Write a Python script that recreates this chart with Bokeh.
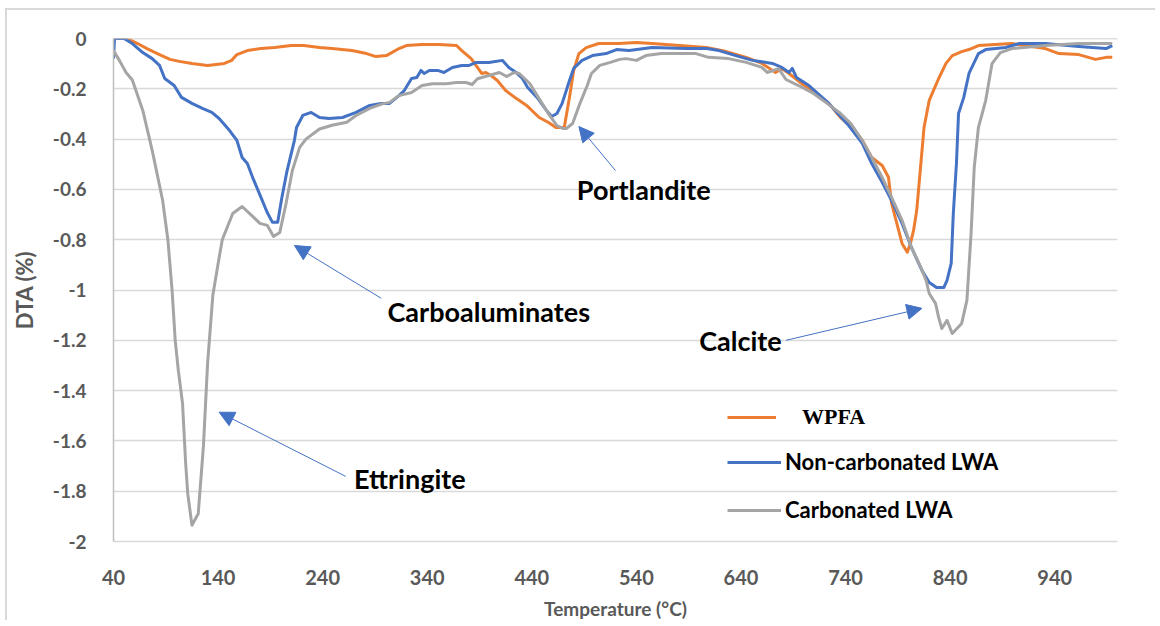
from bokeh.plotting import figure
from bokeh.models import (ColumnDataSource, FixedTicker, Legend, LegendItem, Label,
                          Arrow, NormalHead, Span)
from bokeh.embed import file_html
from bokeh.resources import INLINE

# ---------------- data ----------------
wpfa_T = [40, 53, 63, 72, 84, 94, 103, 115, 130, 146, 153, 158, 168, 181, 194, 210, 222, 237, 249, 268,
          282, 291, 301, 313, 320, 335, 351, 368, 373, 382, 388, 392, 396, 401, 407, 415, 425, 435, 447, 456,
          463, 471, 476, 480, 485, 492, 504, 523, 540, 555, 581, 607, 626, 645, 660, 673, 679, 686, 698, 712,
          724, 736, 746, 756, 765, 775, 781, 784, 789, 794, 799, 802, 805, 808, 812, 815, 820, 824, 829, 836,
          842, 851, 858, 867, 899, 931, 944, 963, 979, 989, 995]
wpfa_v = [0, 0, -0.02, -0.04, -0.064, -0.083, -0.091, -0.099, -0.107, -0.099, -0.087, -0.064, -0.048, -0.04,
          -0.036, -0.028, -0.028, -0.036, -0.04, -0.048, -0.06, -0.072, -0.068, -0.04, -0.028, -0.024, -0.024,
          -0.028, -0.048, -0.08, -0.115, -0.139, -0.135, -0.147, -0.167, -0.207, -0.238, -0.266, -0.314, -0.334,
          -0.354, -0.354, -0.234, -0.127, -0.06, -0.036, -0.02, -0.02, -0.016, -0.02, -0.028, -0.036, -0.052,
          -0.075, -0.099, -0.135, -0.119, -0.139, -0.179, -0.219, -0.258, -0.318, -0.354, -0.405, -0.473,
          -0.505, -0.552, -0.656, -0.735, -0.815, -0.85, -0.815, -0.763, -0.684, -0.497, -0.354, -0.246,
          -0.207, -0.159, -0.099, -0.068, -0.052, -0.044, -0.028, -0.02, -0.04, -0.06, -0.064, -0.083, -0.075,
          -0.075]

noncarb_T = [40, 41, 50, 58, 68, 77, 84, 89, 98, 105, 115, 125, 134, 141, 151, 158, 163, 168, 173, 181,
             187, 192, 197, 201, 206, 213, 215, 221, 229, 237, 246, 259, 272, 285, 296, 304, 313, 318, 325, 330,
             334, 337, 342, 350, 356, 364, 373, 380, 387, 399, 412, 418, 425, 431, 436, 445, 454, 459, 464, 469,
             476, 480, 488, 498, 511, 521, 533, 555, 588, 607, 619, 635, 651, 670, 679, 686, 689, 693, 705, 724,
             743, 756, 765, 775, 784, 794, 803, 813, 820, 827, 834, 837, 841, 843, 846, 848, 853, 858, 867, 874,
             893, 906, 931, 963, 989, 995]
noncarb_v = [-0.08, 0, 0, -0.02, -0.056, -0.08, -0.107, -0.159, -0.187, -0.234, -0.258, -0.278, -0.294,
             -0.318, -0.366, -0.405, -0.473, -0.497, -0.552, -0.632, -0.692, -0.731, -0.731, -0.632, -0.525,
             -0.405, -0.354, -0.306, -0.294, -0.314, -0.318, -0.314, -0.294, -0.266, -0.258, -0.258, -0.227,
             -0.207, -0.159, -0.155, -0.127, -0.139, -0.127, -0.127, -0.135, -0.115, -0.107, -0.107, -0.095,
             -0.095, -0.087, -0.115, -0.135, -0.159, -0.195, -0.234, -0.286, -0.31, -0.298, -0.258, -0.167,
             -0.119, -0.087, -0.068, -0.06, -0.044, -0.048, -0.036, -0.04, -0.04, -0.048, -0.068, -0.087,
             -0.099, -0.115, -0.135, -0.119, -0.155, -0.187, -0.258, -0.346, -0.417, -0.497, -0.572, -0.644,
             -0.735, -0.831, -0.922, -0.97, -0.99, -0.99, -0.962, -0.894, -0.696, -0.497, -0.298, -0.234,
             -0.139, -0.06, -0.044, -0.036, -0.02, -0.02, -0.032, -0.04, -0.028]

carb_T = [40, 46, 52, 58, 68, 77, 87, 92, 96, 99, 102, 106, 109, 111, 115, 121, 126, 130, 135, 139,
          144, 154, 163, 172, 180, 187, 193, 199, 205, 211, 218, 224, 237, 249, 263, 272, 285, 297, 304, 313,
          325, 335, 345, 358, 368, 377, 383, 388, 399, 409, 416, 423, 428, 438, 448, 457, 464, 470, 473, 479,
          486, 493, 497, 505, 515, 524, 530, 540, 549, 564, 597, 609, 628, 645, 660, 665, 676, 683, 695, 708,
          721, 734, 745, 756, 765, 775, 784, 794, 803, 812, 817, 820, 826, 829, 832, 837, 842, 851, 856, 860,
          863, 867, 874, 880, 888, 899, 931, 963, 995]
carb_v = [-0.048, -0.09, -0.135, -0.165, -0.286, -0.445, -0.644, -0.80, -1.0, -1.2, -1.32, -1.45, -1.69,
          -1.81, -1.935, -1.89, -1.62, -1.29, -1.02, -0.92, -0.80, -0.696, -0.668, -0.703, -0.735, -0.743,
          -0.787, -0.771, -0.656, -0.525, -0.433, -0.40, -0.36, -0.345, -0.333, -0.306, -0.278, -0.26, -0.254,
          -0.227, -0.215, -0.187, -0.18, -0.18, -0.175, -0.175, -0.183, -0.16, -0.147, -0.135, -0.151, -0.135,
          -0.139, -0.179, -0.246, -0.306, -0.346, -0.358, -0.358, -0.338, -0.258, -0.187, -0.139, -0.107,
          -0.095, -0.083, -0.08, -0.087, -0.068, -0.06, -0.06, -0.075, -0.08, -0.095, -0.115, -0.135, -0.12,
          -0.163, -0.187, -0.215, -0.254, -0.294, -0.338, -0.405, -0.473, -0.552, -0.632, -0.723, -0.831,
          -0.91, -0.962, -1.014, -1.053, -1.109, -1.153, -1.121, -1.173, -1.133, -1.041, -0.775, -0.513,
          -0.354, -0.246, -0.10, -0.056, -0.04, -0.028, -0.02, -0.02]

series_names = ["WPFA", "Non-carbonated LWA", "Carbonated LWA"]
series_colors = ["#ED7D31", "#4472C4", "#A5A5A5"]

x_ticks = [40, 140, 240, 340, 440, 540, 640, 740, 840, 940]
y_ticks = [0, -0.2, -0.4, -0.6, -0.8, -1, -1.2, -1.4, -1.6, -1.8, -2]
y_tick_labels = ["0", "-0.2", "-0.4", "-0.6", "-0.8", "-1", "-1.2", "-1.4", "-1.6", "-1.8", "-2"]

# annotations: (text, label x, label y, arrow start x, start y, arrow tip x, tip y)
annotations = [
    ("Carboaluminates", 302, -1.085, 296, -1.033, 213, -0.823),
    ("Ettringite", 270, -1.749, 262, -1.741, 141, -1.486),
    ("Portlandite", 483, -0.600, 520, -0.525, 485, -0.350),
    ("Calcite", 600, -1.200, 683, -1.200, 813, -1.073),
]

# ---------------- figure ----------------
FONT = "Lato"
GREY_TXT = "#595959"

p = figure(width=1150, height=612, x_range=(40, 1000), y_range=(-2, 0),
           output_backend="svg", toolbar_location=None,
           min_border_left=106, min_border_right=40, min_border_top=28, min_border_bottom=80)
p.styles = {"margin-left": "5px", "margin-top": "8px",
            "border-left": "2px solid #d9d9d9", "border-top": "2px solid #d9d9d9"}
p.outline_line_color = None
p.background_fill_color = "white"

p.xgrid.grid_line_color = None
p.ygrid.grid_line_color = "#d9d9d9"
p.ygrid.grid_line_width = 1.5
p.ygrid.ticker = FixedTicker(ticks=y_ticks)

p.xaxis.ticker = FixedTicker(ticks=x_ticks)
p.yaxis.ticker = FixedTicker(ticks=y_ticks)
p.yaxis.major_label_overrides = {t: s for t, s in zip(y_ticks, y_tick_labels)}

for ax in (p.xaxis[0], p.yaxis[0]):
    ax.major_tick_line_color = None
    ax.minor_tick_line_color = None
    ax.major_label_text_font = FONT
    ax.major_label_text_font_style = "bold"
    ax.major_label_text_color = GREY_TXT
    ax.axis_label_text_font = FONT
    ax.axis_label_text_font_style = "bold"
    ax.axis_label_text_color = GREY_TXT

p.xaxis.major_label_text_font_size = "20px"
p.yaxis.major_label_text_font_size = "19px"
p.xaxis.axis_label_text_font_size = "19px"
p.yaxis.axis_label_text_font_size = "22px"
p.xaxis.axis_line_color = "#d9d9d9"
p.xaxis.axis_line_width = 1.5
p.yaxis.axis_line_color = "#bfbfbf"
p.yaxis.axis_line_width = 1.5
p.xaxis.major_label_standoff = 22
p.yaxis.major_label_standoff = 21
p.xaxis.axis_label_standoff = 9
p.yaxis.axis_label_standoff = 12
p.xaxis.axis_label = "Temperature (°C)"
p.yaxis.axis_label = "DTA (%)"

# zero line (horizontal axis crossing at 0)
p.add_layout(Span(location=0, dimension="width", line_color="#bfbfbf", line_width=1.5))

renderers = []
for T, v, name, col in zip([wpfa_T, noncarb_T, carb_T], [wpfa_v, noncarb_v, carb_v],
                           series_names, series_colors):
    src = ColumnDataSource(dict(x=T, y=v))
    r = p.line("x", "y", source=src, line_color=col, line_width=3, line_join="round")
    renderers.append(r)

# legends (two, to allow the serif WPFA label)
leg1 = Legend(items=[LegendItem(label=series_names[0], renderers=[renderers[0]])],
              location=(614, 111), orientation="vertical", padding=0, margin=0,
              glyph_width=49, glyph_height=20, label_height=20, label_standoff=26,
              border_line_color=None, background_fill_alpha=0,
              label_text_font="Liberation Serif", label_text_font_style="bold",
              label_text_font_size="22px", label_text_color="black")
leg2 = Legend(items=[LegendItem(label=series_names[1], renderers=[renderers[1]]),
                     LegendItem(label=series_names[2], renderers=[renderers[2]])],
              location=(614, 18), orientation="vertical", padding=0, margin=0, spacing=21,
              glyph_width=54, glyph_height=20, label_height=20, label_standoff=4,
              border_line_color=None, background_fill_alpha=0,
              label_text_font=FONT, label_text_font_style="bold",
              label_text_font_size="22px", label_text_color="black")
p.add_layout(leg1)
p.add_layout(leg2)

# annotations with arrows
for text, lx, ly, sx, sy, ex, ey in annotations:
    p.add_layout(Arrow(x_start=sx, y_start=sy, x_end=ex, y_end=ey,
                       line_color="#4472C4", line_width=1,
                       end=NormalHead(size=15, fill_color="#4472C4", line_color="#4472C4")))
    p.add_layout(Label(x=lx, y=ly, text=text, text_font=FONT, text_font_style="bold",
                       text_font_size="27px", text_color="black", text_baseline="middle",
                       text_align="left"))

open("out.html", "w").write(file_html(p, INLINE))
